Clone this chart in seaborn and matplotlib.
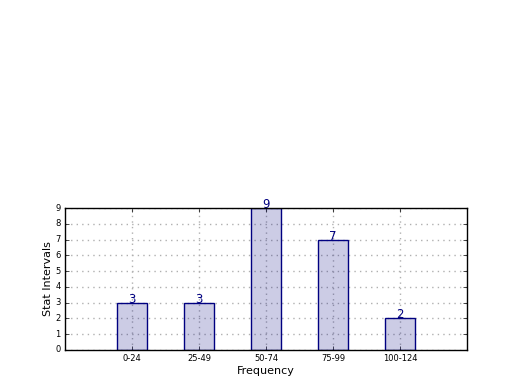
import matplotlib
matplotlib.use("Agg")
import matplotlib.pyplot as plt
import seaborn as sns
import pandas as pd

categories = ["0-24", "25-49", "50-74", "75-99", "100-124"]
counts = [3, 3, 9, 7, 2]

plt.style.use("classic")
plt.rcParams["font.family"] = ["DejaVu Sans"]

df = pd.DataFrame({"interval": categories, "count": counts})

fig = plt.figure(figsize=(5.2, 3.9), dpi=100)
fig.patch.set_facecolor("white")
ax = fig.add_axes([0.125, 0.1026, 0.7731, 0.364])

sns.barplot(data=df, x="interval", y="count", ax=ax, width=0.45,
            color="navy", edgecolor="navy", linewidth=1, saturation=1,
            errorbar=None, zorder=2)
for p in ax.patches:
    p.set_facecolor((0.0, 0.0, 0.5, 0.2))
    p.set_edgecolor("navy")

ax.xaxis.grid(True, color="#b0b0b0", linestyle=":", linewidth=1)
ax.yaxis.grid(True, color="#b0b0b0", linestyle=":", linewidth=1)
ax.set_axisbelow(True)

for i, v in enumerate(counts):
    ax.text(i, v, str(v), ha="center", va="baseline", color="navy",
            fontsize=8.5, zorder=3)

ax.set_xlim(-1, 5)
ax.set_ylim(0, 9)
ax.set_yticks(range(0, 10))
ax.tick_params(axis="both", labelsize=6, direction="in", length=3, pad=3)
ax.set_xlabel("Frequency", fontsize=8, labelpad=2)
ax.set_ylabel("Stat Intervals", fontsize=8, labelpad=2)
for s in ax.spines.values():
    s.set_linewidth(1)
    s.set_color("black")
    s.set_zorder(5)

fig.savefig("out.png", dpi=100, facecolor="white")
